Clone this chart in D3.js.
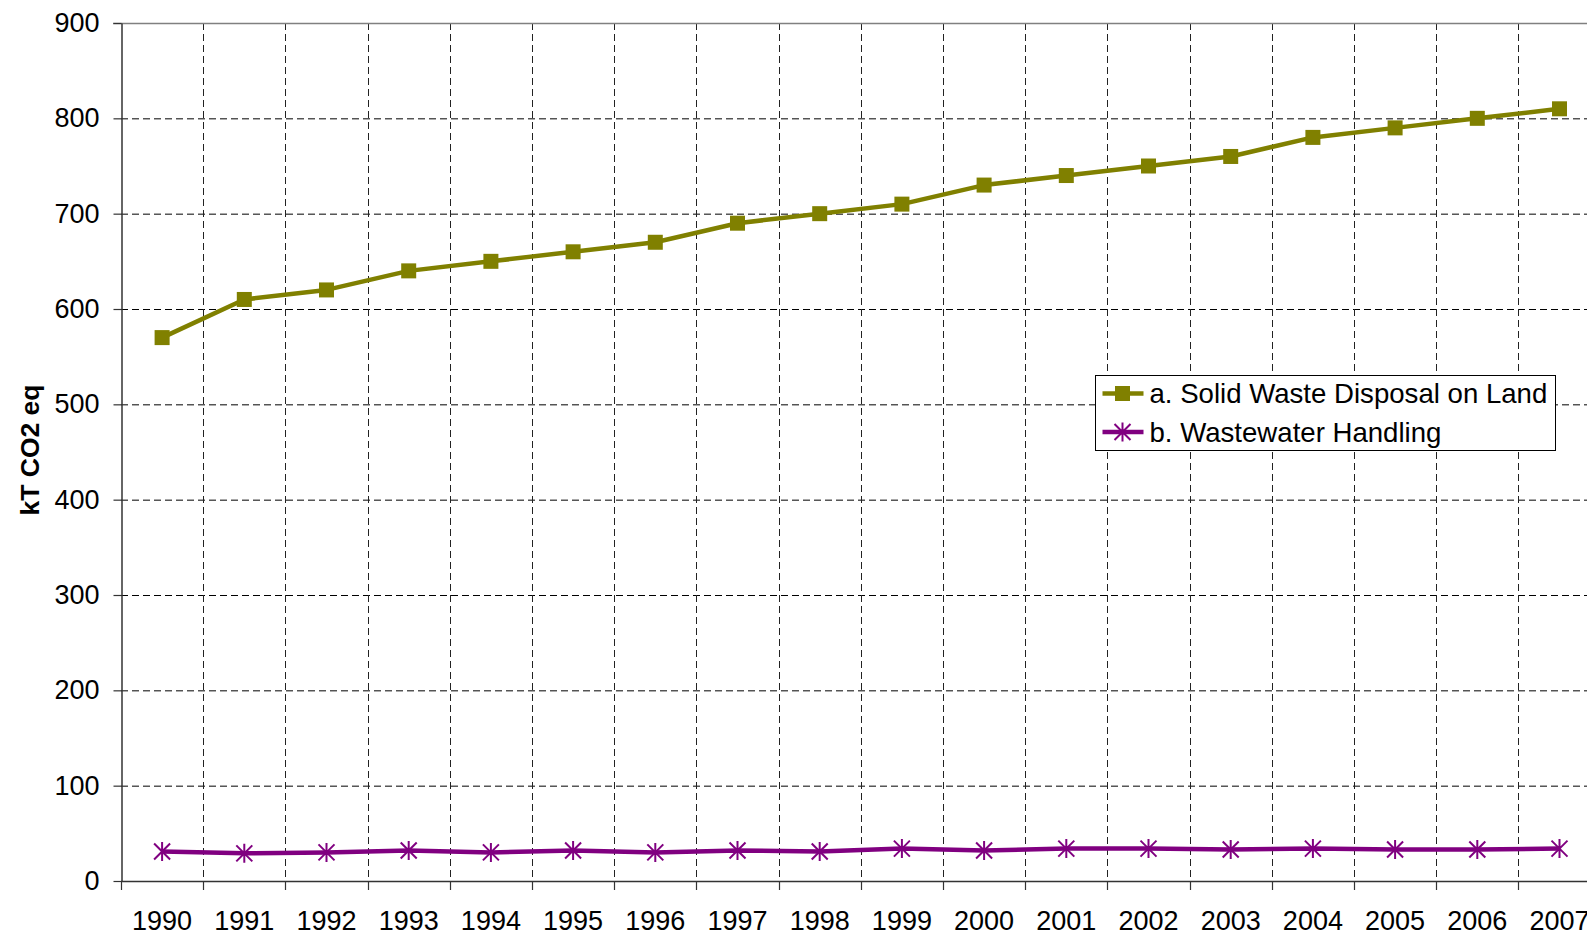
<!DOCTYPE html>
<html>
<head>
<meta charset="utf-8">
<script src="https://cdn.jsdelivr.net/npm/d3@7"></script>
<style>
  body { margin: 0; background: #fff; overflow: hidden; }
  text { font-family: "Liberation Sans", Arial, Helvetica, sans-serif; }
</style>
</head>
<body>
<svg id="main" width="1587" height="934"></svg>
<script>
// chart data
const years = ["1990", "1991", "1992", "1993", "1994", "1995", "1996", "1997", "1998",
    "1999", "2000", "2001", "2002", "2003", "2004", "2005", "2006", "2007"];
const solidWaste = [570, 610, 620, 640, 650, 660, 670, 690, 700, 710, 730, 740, 750, 760, 780, 790, 800, 810];
const wastewater = [31, 29, 30, 32, 30, 32, 30, 32, 31, 34, 32, 34, 34, 33, 34, 33, 33, 34];
const seriesNames = ["a. Solid Waste Disposal on Land", "b. Wastewater Handling"];
const yTicks = [0, 100, 200, 300, 400, 500, 600, 700, 800, 900];
const yTitle = "kT CO2 eq";

const plot = { left: 121, top: 23, bottom: 881, band: 82.2 };
const olive = "#808000";
const purple = "#800080";

const svg = d3.select("#main");

const x = d3.scaleBand()
    .domain(years)
    .range([plot.left, plot.left + plot.band * years.length]);

const y = d3.scaleLinear()
    .domain([0, 900])
    .range([plot.bottom, plot.top]);

const right = x.range()[1];

// grid
const grid = svg.append("g");
grid.selectAll("line.h")
    .data(yTicks.filter(d => d > 0 && d < 900))
    .enter().append("line")
    .attr("x1", plot.left).attr("x2", right)
    .attr("y1", d => y(d) + 0.5).attr("y2", d => y(d) + 0.5)
    .attr("stroke", "#000").attr("stroke-width", 1)
    .attr("stroke-dasharray", "7,4");

grid.selectAll("line.v")
    .data(years.slice(1))
    .enter().append("line")
    .attr("x1", d => Math.round(x(d)) + 0.5).attr("x2", d => Math.round(x(d)) + 0.5)
    .attr("y1", plot.top).attr("y2", plot.bottom)
    .attr("stroke", "#222").attr("stroke-width", 1)
    .attr("stroke-dasharray", "7,4");

// top border
svg.append("line")
    .attr("x1", plot.left - 8).attr("x2", right)
    .attr("y1", y(900) + 0.5).attr("y2", y(900) + 0.5)
    .attr("stroke", "#808080").attr("stroke-width", 1.5);

// y axis
const yAxis = svg.append("g")
    .attr("transform", `translate(${plot.left + 0.5},0)`)
    .call(d3.axisLeft(y).tickValues(yTicks).tickSize(8).tickPadding(14).tickSizeOuter(0));
yAxis.select(".domain").attr("stroke", "#333").attr("stroke-width", 1.5);
yAxis.selectAll(".tick line").attr("stroke", "#333").attr("stroke-width", 1.2);
yAxis.selectAll(".tick text")
    .attr("font-size", 27)
    .attr("font-family", "Liberation Sans, Arial, sans-serif")
    .attr("fill", "#000");

// x axis
const xAxis = svg.append("g");
xAxis.append("line")
    .attr("x1", plot.left).attr("x2", right)
    .attr("y1", plot.bottom + 0.5).attr("y2", plot.bottom + 0.5)
    .attr("stroke", "#333").attr("stroke-width", 1.5);
xAxis.selectAll("line.tk")
    .data(years)
    .enter().append("line")
    .attr("x1", d => Math.round(x(d)) + 0.5).attr("x2", d => Math.round(x(d)) + 0.5)
    .attr("y1", plot.bottom).attr("y2", plot.bottom + 9)
    .attr("stroke", "#333").attr("stroke-width", 1.2);
xAxis.selectAll("text")
    .data(years)
    .enter().append("text")
    .attr("x", d => x(d) + x.bandwidth() / 2)
    .attr("y", 930)
    .attr("text-anchor", "middle")
    .attr("font-size", 27)
    .text(d => d);

// y title
svg.append("text")
    .attr("transform", `translate(39, 450) rotate(-90)`)
    .attr("text-anchor", "middle")
    .attr("font-size", 26.5)
    .attr("font-weight", "bold")
    .text(yTitle);

const line = d3.line()
    .x((d, i) => x(years[i]) + x.bandwidth() / 2)
    .y(d => y(d));

function square(g, color) {
    g.append("rect")
        .attr("x", -7.5).attr("y", -7.5)
        .attr("width", 15).attr("height", 15)
        .attr("fill", color);
}

function star(g, color) {
    g.append("path")
        .attr("d", "M-8,-8L8,8M-8,8L8,-8M0,-9.5L0,9.5")
        .attr("stroke", color)
        .attr("stroke-width", 2)
        .attr("fill", "none");
}

const series = [
    { values: solidWaste, color: olive, marker: square },
    { values: wastewater, color: purple, marker: star }
];

series.forEach(s => {
    svg.append("path")
        .datum(s.values)
        .attr("d", line)
        .attr("fill", "none")
        .attr("stroke", s.color)
        .attr("stroke-width", 4.5)
        .attr("stroke-linejoin", "round");

    svg.append("g")
        .selectAll("g")
        .data(s.values)
        .enter().append("g")
        .attr("transform", (d, i) => `translate(${x(years[i]) + x.bandwidth() / 2},${y(d)})`)
        .each(function () { s.marker(d3.select(this), s.color); });
});

// legend
const legend = svg.append("g").attr("transform", "translate(1095.5,375.5)");
legend.append("rect")
    .attr("width", 460).attr("height", 75)
    .attr("fill", "#fff")
    .attr("stroke", "#000").attr("stroke-width", 1);

series.forEach((s, i) => {
    const row = legend.append("g").attr("transform", `translate(0,${18 + i * 38.5})`);
    row.append("line")
        .attr("x1", 7).attr("x2", 48)
        .attr("stroke", s.color).attr("stroke-width", 4.5);
    s.marker(row.append("g").attr("transform", "translate(27,0)"), s.color);
    row.append("text")
        .attr("x", 54)
        .attr("y", 9.5)
        .attr("font-size", 27.6)
        .text(seriesNames[i]);
});
</script>
</body>
</html>
